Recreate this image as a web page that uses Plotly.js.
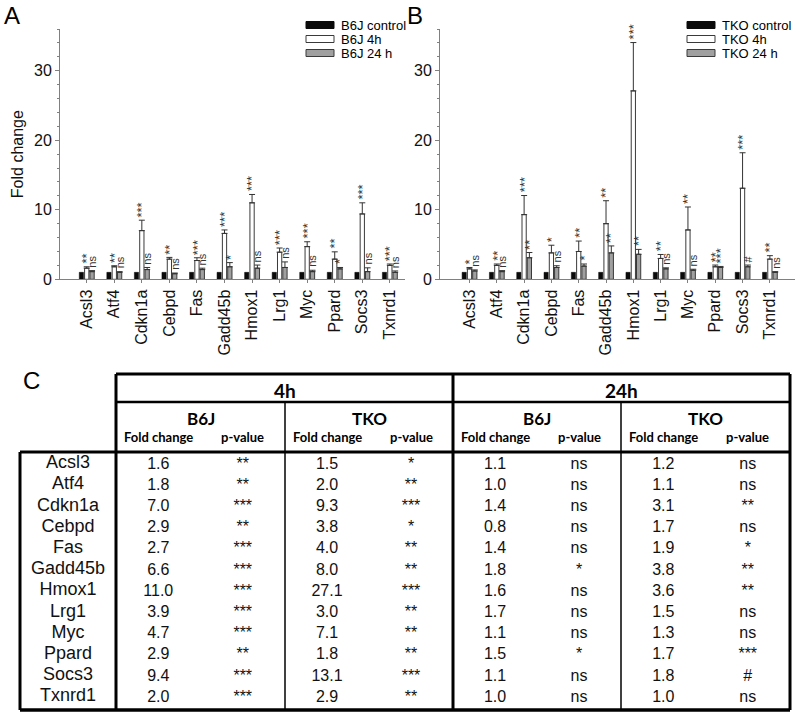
<!DOCTYPE html>
<html><head><meta charset="utf-8">
<script src="https://cdn.plot.ly/plotly-3.0.1.min.js"></script>
<style>html,body{margin:0;padding:0;background:#fff}#chart{width:800px;height:713px}</style>
</head><body><div id="chart"></div>
<script>
// ---------------- DATA ----------------
const genes = ['Acsl3','Atf4','Cdkn1a','Cebpd','Fas','Gadd45b','Hmox1','Lrg1','Myc','Ppard','Socs3','Txnrd1'];
const seriesA = ['B6J control','B6J 4h','B6J 24 h'];
const seriesB = ['TKO control','TKO 4h','TKO 24 h'];
const yTicks = [0,10,20,30];

const b6jCtrl  = [1.0,1.0,1.0,1.0,1.0,1.0,1.0,1.0,1.0,1.0,1.0,1.0];
const b6j4h    = [1.6,1.8,7.0,2.9,2.7,6.6,11.0,3.9,4.7,2.9,9.4,2.0];
const b6j4hErr = [0.2,0.15,1.5,0.25,0.4,0.5,1.2,0.6,0.7,1.05,1.6,0.2];
const b6j4hP   = ['**','**','***','**','***','***','***','***','***','**','***','***'];
const b6j24h    = [1.1,1.0,1.4,0.8,1.4,1.8,1.6,1.7,1.1,1.5,1.1,1.0];
const b6j24hErr = [0.15,0.1,0.3,0.1,0.2,0.6,0.45,0.8,0.2,0.2,0.55,0.2];
const b6j24hP   = ['ns','ns','ns','ns','ns','*','ns','ns','ns','*','ns','ns'];

const tkoCtrl  = [1.0,1.0,1.0,1.0,1.0,1.0,1.0,1.0,1.0,1.0,1.0,1.0];
const tko4h    = [1.5,2.0,9.3,3.8,4.0,8.0,27.1,3.0,7.1,1.8,13.1,2.9];
const tko4hErr = [0.2,0.2,2.75,1.1,1.5,3.3,6.95,0.57,3.3,0.25,5.1,0.5];
const tko4hP   = ['*','**','***','*','**','**','***','**','**','**','***','**'];
const tko24h    = [1.2,1.1,3.1,1.7,1.9,3.8,3.6,1.5,1.3,1.7,1.8,1.0];
const tko24hErr = [0.15,0.15,0.75,0.25,0.3,1.0,0.7,0.15,0.15,0.15,0.25,0.1];
const tko24hP   = ['ns','ns','**','ns','*','**','**','ns','ns','***','#','ns'];

const timeHeaders = ['4h','24h'];
const strainHeaders = ['B6J','TKO'];
const subHeaders = ['Fold change','p-value'];

// ---------------- STYLE / LAYOUT ----------------
const FONT = 'Arial, "Liberation Sans", sans-serif';
const HFONT = 'Lato, "Open Sans", sans-serif';
const W = 800, H = 713;
const BARGAP = 0.42, BARGROUPGAP = 0.2;
const SLOT = (1 - BARGAP) / 3;
const COLORS = {ctrl:'#0a0a0a', h4:'#ffffff', h24:'#a0a0a0', line:'#3a3a3a'};
const AXIS_GRAY = '#808080';

function panelTraces(xa, ya, names, ctrl, v4, e4, v24, e24) {
  return [
    {type:'bar', x:genes, y:ctrl, name:names[0], xaxis:xa, yaxis:ya, showlegend:false,
     marker:{color:COLORS.ctrl, line:{color:COLORS.ctrl, width:0.5}}},
    {type:'bar', x:genes, y:v4, name:names[1], xaxis:xa, yaxis:ya, showlegend:false,
     marker:{color:COLORS.h4, line:{color:COLORS.line, width:1}},
     error_y:{type:'data', symmetric:false, array:e4, arrayminus:e4.map(()=>0), color:'#333', thickness:1, width:3}},
    {type:'bar', x:genes, y:v24, name:names[2], xaxis:xa, yaxis:ya, showlegend:false,
     marker:{color:COLORS.h24, line:{color:COLORS.line, width:1}},
     error_y:{type:'data', symmetric:false, array:e24, arrayminus:e24.map(()=>0), color:'#333', thickness:1, width:3}}
  ];
}

function sigAnns(xref, yref, vals, errs, labels, off) {
  return labels.map((t,i)=>({xref, yref, x:i+off, y:vals[i]+errs[i], text:t, showarrow:false,
    textangle:-90, xanchor:'center', yanchor:'bottom', yshift:1,
    font:{family:FONT, size:(t.indexOf('*')>=0 ? 13 : 11), color:'#333'}}));
}

// table geometry (page pixels on overlay axis)
const T = {labL:20, left:116, right:790, top:374, h1:402, h2:452, bottom:710, rowStep:21.2};
const grpEdges = [T.left, 285, 453, 621, T.right];
const rowY = i => T.h2 + 1 + (i + 0.5) * T.rowStep;

const traces = [
  ...panelTraces('x','y', seriesA, b6jCtrl, b6j4h, b6j4hErr, b6j24h, b6j24hErr),
  ...panelTraces('x2','y2', seriesB, tkoCtrl, tko4h, tko4hErr, tko24h, tko24hErr)
];

// table body text through overlay axis x3/y3
const tableCols = [b6j4h, b6j4hP, tko4h, tko4hP, b6j24h, b6j24hP, tko24h, tko24hP];
const colX = [];
for (let g = 0; g < 4; g++) {
  const l = grpEdges[g], r = grpEdges[g+1], w = r - l;
  colX.push(l + w/4, l + 3*w/4);
}
const tx = [], ty = [], tt = [], ts = [];
genes.forEach((gname,i)=>{
  tx.push((T.labL + T.left)/2); ty.push(rowY(i)); tt.push(gname); ts.push(18);
  tableCols.forEach((col,c)=>{
    const v = col[i];
    tx.push(colX[c]); ty.push(rowY(i) + 1);
    tt.push(typeof v === 'number' ? v.toFixed(1) : v); ts.push(16);
  });
});
traces.push({type:'scatter', mode:'text', x:tx, y:ty, text:tt, xaxis:'x3', yaxis:'y3',
  textfont:{family:FONT, size:ts, color:'#111'}, showlegend:false, cliponaxis:false, hoverinfo:'skip'});

// table borders
const shapes = [];
const ln = (x0,y0,x1,y1,w)=>shapes.push({type:'line', xref:'x3', yref:'y3', x0, y0, x1, y1, line:{color:'#000', width:w}});
ln(T.left, T.top, T.right, T.top, 3);
ln(T.left, T.h1, T.right, T.h1, 2.5);
ln(T.labL, T.h2, T.right, T.h2, 3);
ln(T.labL, T.bottom, T.right, T.bottom, 3.5);
ln(T.labL, T.h2, T.labL, T.bottom, 3);
ln(T.left, T.top, T.left, T.bottom, 3);
ln(grpEdges[2], T.top, grpEdges[2], T.bottom, 3);
ln(T.right, T.top, T.right, T.bottom, 3);
ln(grpEdges[1], T.h1, grpEdges[1], T.bottom, 1.5);
ln(grpEdges[3], T.h1, grpEdges[3], T.bottom, 1.5);

const annotations = [
  ...sigAnns('x','y', b6j4h, b6j4hErr, b6j4hP, 0),
  ...sigAnns('x','y', b6j24h, b6j24hErr, b6j24hP, SLOT),
  ...sigAnns('x2','y2', tko4h, tko4hErr, tko4hP, 0),
  ...sigAnns('x2','y2', tko24h, tko24hErr, tko24hP, SLOT)
];
const txtAnn = (x,y,text,size,family,bold,xanchor)=>annotations.push({xref:'x3', yref:'y3', x, y,
  text: bold ? '<b>'+text+'</b>' : text, showarrow:false, xanchor:xanchor||'center', yanchor:'middle',
  font:{family, size, color:'#000'}});

// table headers
timeHeaders.forEach((h,k)=>txtAnn((grpEdges[2*k]+grpEdges[2*k+2])/2, 390, h, 19, HFONT, true));
for (let g = 0; g < 4; g++) {
  txtAnn((grpEdges[g]+grpEdges[g+1])/2, 418, strainHeaders[g%2], 17, HFONT, true);
  subHeaders.forEach((s,k)=>txtAnn(colX[2*g+k], 437, s, 13, HFONT, true));
}

// panel letters
txtAnn(2, 15, 'A', 24, FONT, false, 'left');
txtAnn(405, 15, 'B', 24, FONT, false, 'left');
txtAnn(21, 380, 'C', 24, FONT, false, 'left');

// custom legends
const LEG = [{x:306, y:25, names:seriesA}, {x:687, y:25, names:seriesB}];
const legFill = [[COLORS.ctrl, COLORS.ctrl],[COLORS.h4, COLORS.line],[COLORS.h24, COLORS.line]];
LEG.forEach(L=>{
  L.names.forEach((n,k)=>{
    const yc = L.y + k*14;
    shapes.push({type:'rect', xref:'x3', yref:'y3', x0:L.x, x1:L.x+28, y0:yc-3.5, y1:yc+3.5,
      fillcolor:legFill[k][0], line:{color:legFill[k][1], width:1}});
    txtAnn(L.x+33, yc, n, 13, FONT, false, 'left');
  });
});

const yDom = [1 - 279.3/H, 1 - 29/H];
const xAxisBase = {type:'category', categoryorder:'array', categoryarray:genes, showline:true, linecolor:AXIS_GRAY,
  linewidth:1, ticks:'outside', ticklen:3, tickcolor:AXIS_GRAY, tickangle:-90, showgrid:false, zeroline:false,
  tickfont:{family:FONT, size:16, color:'#111'}, fixedrange:true};
const yAxisBase = {range:[0,36], tickvals:yTicks, showline:true, linecolor:AXIS_GRAY, linewidth:1,
  ticks:'outside', ticklen:4, tickcolor:AXIS_GRAY, showgrid:false, zeroline:false,
  minor:{dtick:2, ticks:'outside', ticklen:2, tickcolor:AXIS_GRAY, showgrid:false},
  tickfont:{family:FONT, size:16, color:'#111'}, fixedrange:true};

const layout = {
  width:W, height:H, margin:{l:0,r:0,t:0,b:0}, paper_bgcolor:'#fff', plot_bgcolor:'rgba(0,0,0,0)',
  barmode:'group', bargap:BARGAP, bargroupgap:BARGROUPGAP, showlegend:false,
  font:{family:FONT},
  xaxis: Object.assign({}, xAxisBase, {domain:[60/W, 405/W], range:[-0.97, 11.55], anchor:'y'}),
  yaxis: Object.assign({}, yAxisBase, {domain:yDom, anchor:'x',
    title:{text:'Fold change', font:{family:FONT, size:16, color:'#111'}, standoff:6}}),
  xaxis2: Object.assign({}, xAxisBase, {domain:[440/W, 795/W], range:[-1.08, 11.92], anchor:'y2'}),
  yaxis2: Object.assign({}, yAxisBase, {domain:yDom, anchor:'x2'}),
  xaxis3: {domain:[0,1], range:[0,W], visible:false, fixedrange:true, anchor:'y3'},
  yaxis3: {domain:[0,1], range:[H,0], visible:false, fixedrange:true, anchor:'x3'},
  shapes, annotations
};

Plotly.newPlot('chart', traces, layout, {displayModeBar:false, staticPlot:true});
</script></body></html>
